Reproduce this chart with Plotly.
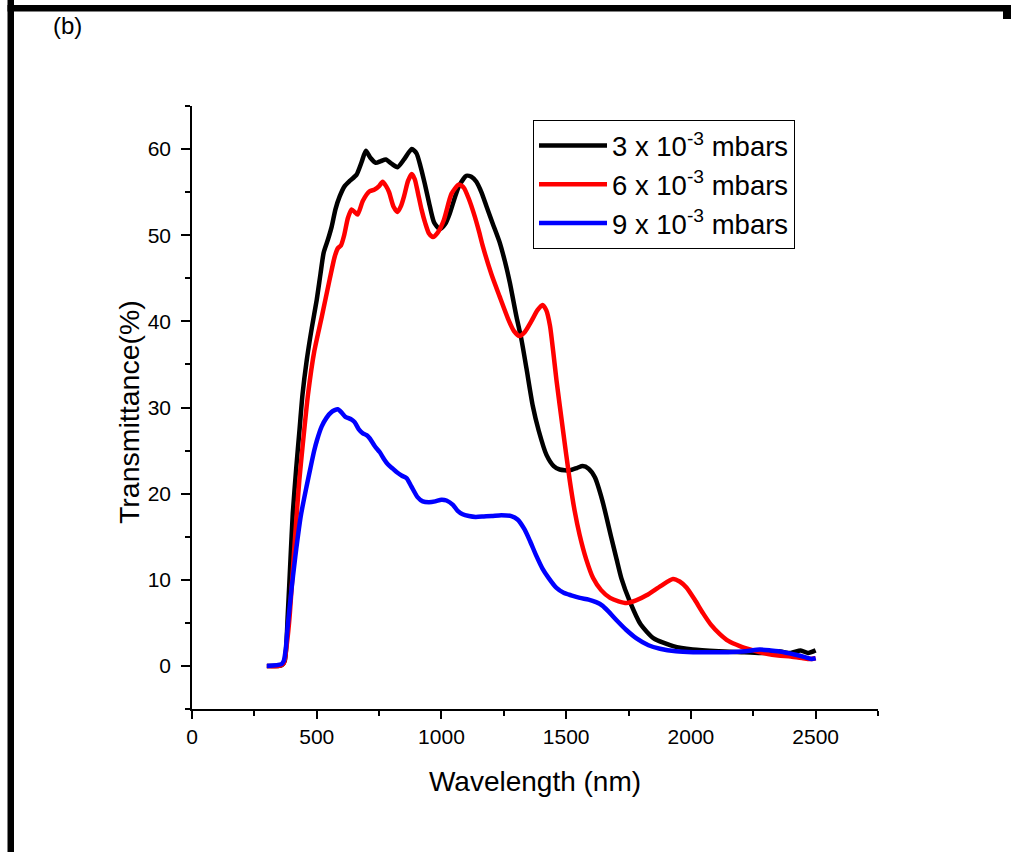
import plotly.graph_objects as go

# ---- data ----
wl_3 = [300, 345, 360, 372, 384, 395, 404, 418, 431, 443, 460, 480, 500, 515, 528, 545, 560, 575,
        592, 612, 632, 659, 680, 697, 715, 737, 757, 777, 800, 824, 850, 881, 900, 916, 933, 950,
        970, 993, 1015, 1033, 1055, 1072, 1100, 1120, 1140, 1160, 1180, 1205, 1233, 1254, 1274,
        1301, 1320, 1341, 1366, 1390, 1421, 1450, 1474, 1514, 1545, 1566, 1590, 1615, 1645, 1680,
        1702, 1721, 1755, 1799, 1851, 1929, 2007, 2111, 2214, 2300, 2350, 2400, 2440, 2470, 2500]
t_3 = [0, 0, 0.1, 0.6, 6, 12.5, 17.7, 23, 27.4, 31.5, 35.5, 39.2, 42.5, 45.5, 48, 49.5, 51, 53,
       54.5, 55.7, 56.3, 57, 58.5, 59.8, 59, 58.4, 58.6, 58.8, 58.3, 57.9, 58.8, 60, 59.5, 58, 56,
       53.8, 51.5, 50.7, 51.3, 52.5, 54.5, 55.8, 56.9, 56.8, 56.2, 55, 53.4, 51.4, 49.2, 47, 44.5,
       40.5, 38, 34.5, 30.2, 27.3, 24.5, 23.2, 22.8, 22.7, 23, 23.2, 22.9, 21.9, 19.2, 15,
       12.4, 10.2, 7.5, 4.8, 3.2, 2.3, 1.9, 1.7, 1.6, 1.5, 1.7, 1.5, 1.8, 1.5, 1.8]

wl_6 = [300, 350, 368, 380, 392, 405, 418, 430, 443, 465, 490, 520, 552, 572, 585, 597, 610, 625,
        640, 652, 664, 685, 712, 732, 750, 764, 778, 790, 808, 824, 838, 850, 866, 881, 893, 905,
        920, 935, 950, 966, 985, 1010, 1040, 1070, 1090, 1110, 1130, 1150, 1166, 1200, 1233, 1267,
        1290, 1313, 1335, 1360, 1385, 1405, 1420, 1435, 1448, 1461, 1487, 1514, 1534, 1554, 1580,
        1608, 1640, 1676, 1710, 1742, 1780, 1822, 1880, 1928, 1955, 1982, 2015, 2049, 2080, 2116,
        2150, 2196, 2250, 2304, 2350, 2400, 2450, 2476, 2500]
t_6 = [0, 0, 0.3, 2.5, 6, 11.5, 16.9, 21.5, 25.4, 31.5, 36.5, 40.5, 44.9, 47.5, 48.5, 48.8, 50, 52,
       53, 52.7, 52.4, 54, 55.1, 55.3, 55.7, 56.2, 55.7, 55, 53.3, 52.7, 53.4, 54.5, 56.3, 57.1,
       56.5, 55, 53, 51.4, 50.2, 49.8, 50.3, 51.8, 54.8, 55.9, 55.5, 54.2, 52.5, 50.5, 48.7, 45.5,
       42.9, 40.3, 38.9, 38.3, 38.8, 40, 41.3, 41.9, 41.3, 39.5, 36.5, 33.2, 27.4, 21.6, 18, 15.2,
       12.4, 10.2, 8.8, 7.9, 7.5, 7.3, 7.6, 8.2, 9.3, 10.1, 9.8, 9.1, 7.7, 6.1, 4.8, 3.7,
       2.9, 2.3, 1.8, 1.4, 1.2, 1.1, 0.9, 0.8, 0.9]

wl_9 = [300, 359, 368, 376, 384, 392, 400, 410, 418, 436, 459, 475, 490, 501, 520, 539, 560, 584,
        600, 615, 625, 640, 652, 668, 685, 700, 713, 733, 753, 770, 785, 805, 820, 840, 860, 880,
        904, 925, 950, 975, 1000, 1020, 1046, 1065, 1085, 1110, 1137, 1170, 1202, 1240, 1280,
        1305, 1332, 1355, 1380, 1405, 1430, 1460, 1490, 1520, 1555, 1590, 1620, 1645, 1670, 1702,
        1740, 1782, 1830, 1876, 1940, 2009, 2100, 2150, 2220, 2276, 2320, 2350, 2420, 2460, 2484,
        2500]
t_9 = [0, 0.2, 0.6, 2, 4.7, 7, 9.2, 11.7, 13.6, 17.4, 20.8, 23, 25, 26.2, 27.8, 28.8, 29.5, 29.8,
       29.4, 28.9, 28.8, 28.6, 28.3, 27.5, 27, 26.8, 26.4, 25.5, 24.8, 24, 23.4, 22.9, 22.5, 22.1,
       21.8, 20.8, 19.6, 19.1, 19.0, 19.1, 19.3, 19.2, 18.7, 18, 17.6, 17.4, 17.3, 17.35, 17.4,
       17.5, 17.4, 17.0, 15.9, 14.5, 12.8, 11.3, 10.2, 9.1, 8.5, 8.2, 7.9, 7.7, 7.4, 7.0, 6.3, 5.3,
       4.2, 3.2, 2.4, 2.0, 1.7, 1.6, 1.6, 1.6, 1.7, 1.9, 1.8, 1.7, 1.3, 1.0, 0.8,
       0.9]

series_names = ["3 x 10<sup>-3</sup> mbars", "6 x 10<sup>-3</sup> mbars", "9 x 10<sup>-3</sup> mbars"]
series_colors = ["#000000", "#ff0000", "#0000ff"]
x_ticks = [0, 500, 1000, 1500, 2000, 2500]
y_ticks = [0, 10, 20, 30, 40, 50, 60]

FONT = "Liberation Sans"

fig = go.Figure()
for name, xs, ys, col in zip(series_names, [wl_3, wl_6, wl_9], [t_3, t_6, t_9], series_colors):
    fig.add_trace(go.Scatter(x=xs, y=ys, mode="lines", name=name, legendgroup=name,
                             line=dict(color=col, width=4.5, shape="spline", smoothing=0.6)))

W, H = 1011, 852
L, R, T, B = 192, 878, 106, 709


def px(x):
    return (x - L) / (R - L)


def py(y):
    return (B - y) / (B - T)


frame = [
    (7.5, 0, 14, 852),     # left bar
    (7.5, 5, 1011, 11.5),  # top bar
    (1003, 5, 1011, 19),   # right stub
]
shapes = [dict(type="rect", xref="paper", yref="paper", x0=px(a), x1=px(c), y0=py(d), y1=py(b),
               fillcolor="black", line=dict(width=0), layer="above") for a, b, c, d in frame]

fig.update_layout(
    width=W, height=H,
    margin=dict(l=L, r=W - R, t=T, b=H - B, pad=0),
    paper_bgcolor="white", plot_bgcolor="white",
    font=dict(family=FONT, color="black"),
    showlegend=True,
    legend=dict(x=px(533), y=py(120), xanchor="left", yanchor="top",
                bordercolor="black", borderwidth=1, bgcolor="white",
                font=dict(size=27.5, family=FONT, color="black"),
                itemwidth=68, tracegroupgap=0),
    shapes=shapes,
    annotations=[
        dict(text="(b)", x=px(67), y=py(26), xref="paper", yref="paper",
             xanchor="center", yanchor="middle",
             showarrow=False, font=dict(size=24, family=FONT, color="black")),
        dict(text="Transmittance(%)", x=px(129), y=py(412), xref="paper", yref="paper",
             xanchor="center", yanchor="middle", textangle=-90,
             showarrow=False, font=dict(size=28.5, family=FONT, color="black")),
    ],
)
fig.update_xaxes(range=[0, 2750], showline=True, linecolor="black", linewidth=1.5,
                 showgrid=False, zeroline=False, ticks="outside", ticklen=8, tickwidth=1.5,
                 tickcolor="black", tickvals=x_ticks,
                 minor=dict(dtick=250, ticks="outside", ticklen=5, tickwidth=1.5, tickcolor="black"),
                 tickfont=dict(size=21, family=FONT),
                 title=dict(text="Wavelength (nm)", font=dict(size=28, family=FONT), standoff=24))
fig.update_yaxes(range=[-5, 65], showline=True, linecolor="black", linewidth=1.5,
                 showgrid=False, zeroline=False, ticks="outside", ticklen=9, tickwidth=1.5,
                 tickcolor="black", tickvals=y_ticks, ticklabelstandoff=6,
                 minor=dict(dtick=5, ticks="outside", ticklen=5, tickwidth=1.5, tickcolor="black"),
                 tickfont=dict(size=21, family=FONT))

fig.write_html("out.html")
